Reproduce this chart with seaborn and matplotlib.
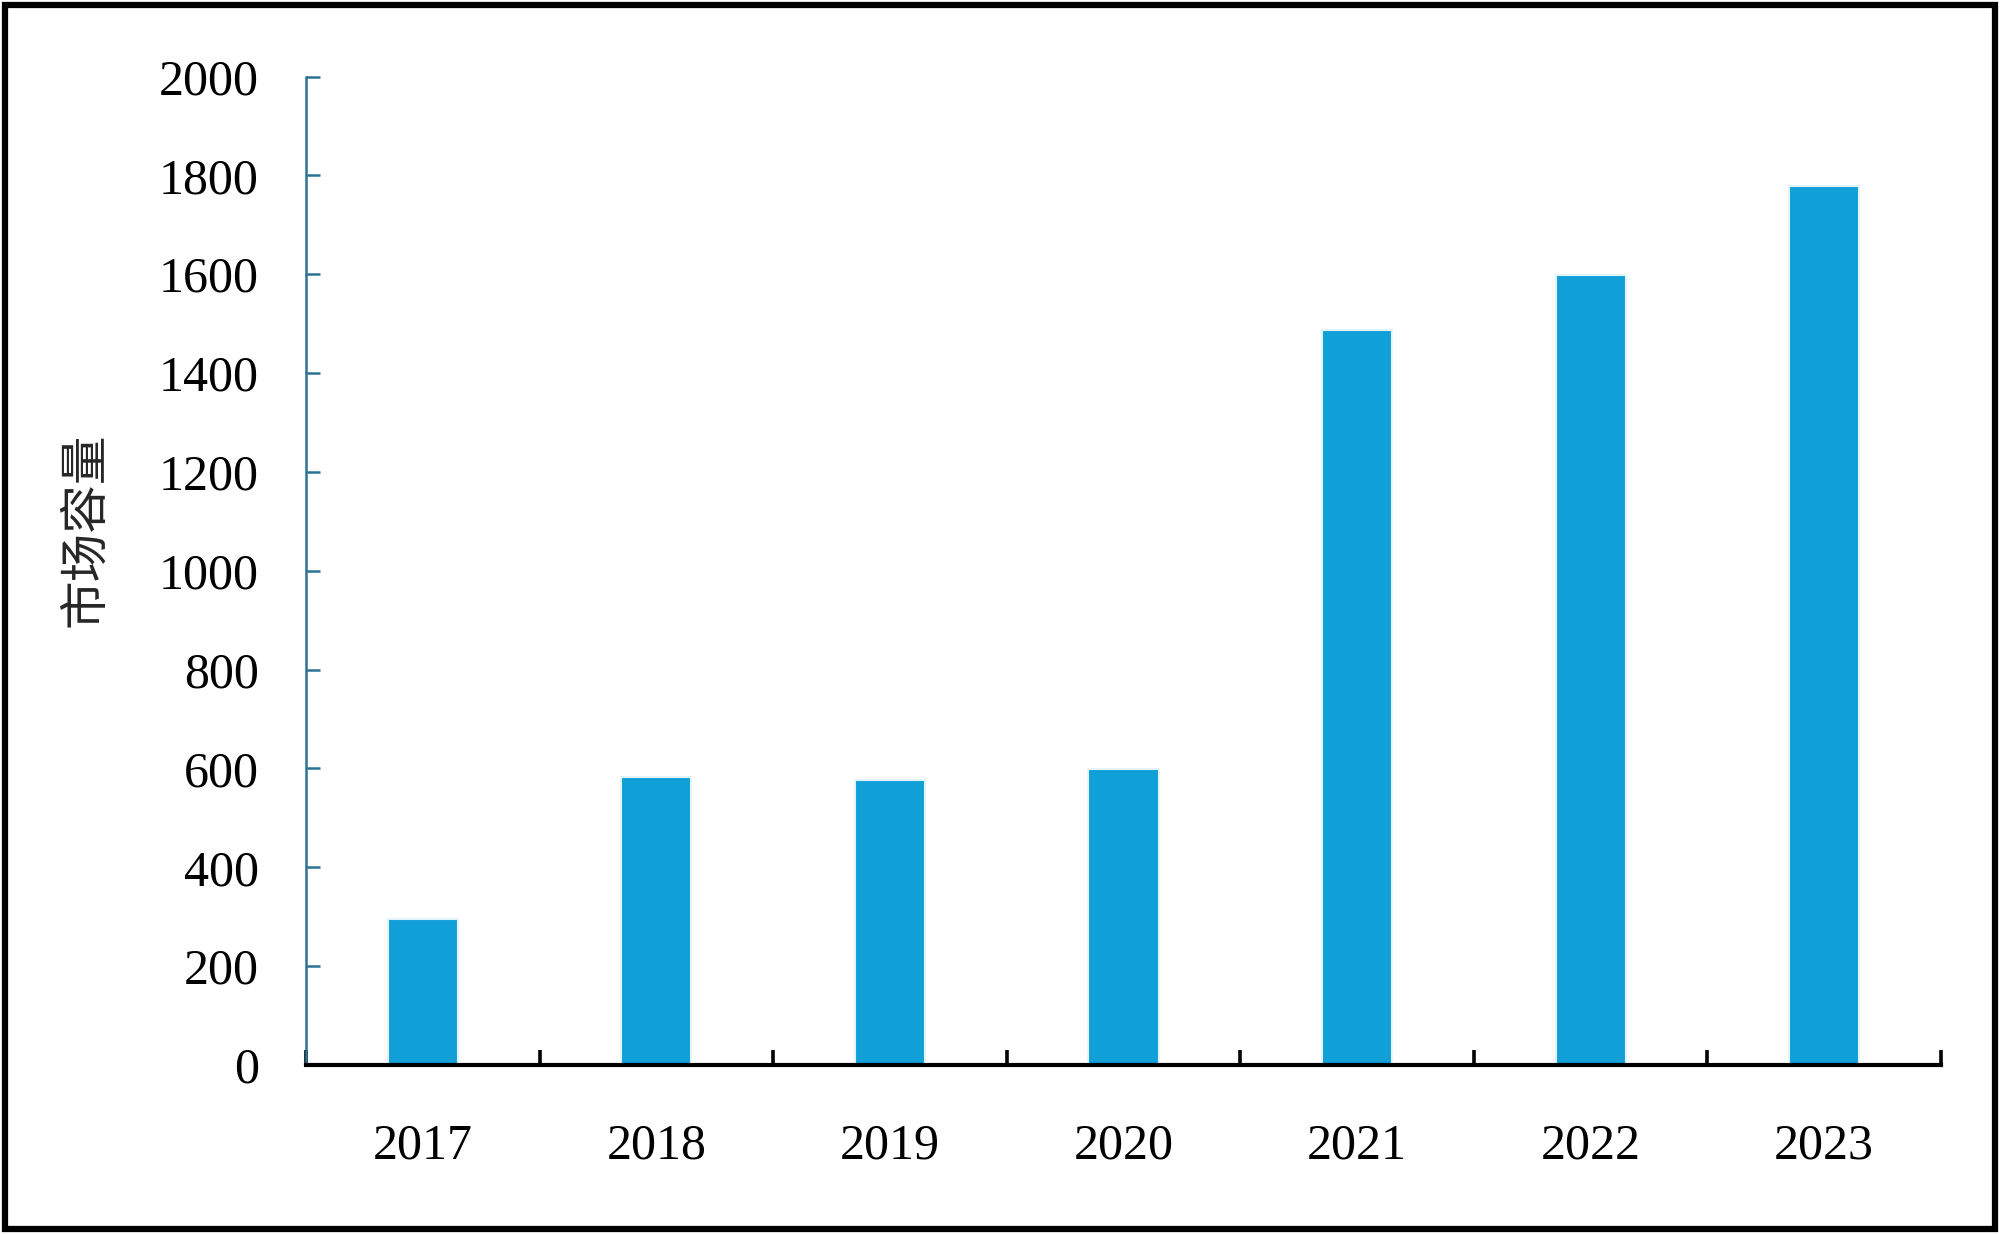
import matplotlib
matplotlib.use("Agg")
import matplotlib.pyplot as plt
import numpy as np
import pandas as pd
import seaborn as sns
from matplotlib.patches import Rectangle

years = ["2017", "2018", "2019", "2020", "2021", "2022", "2023"]
capacity = [296, 582, 577, 598, 1488, 1598, 1778]
y_ticks = [0, 200, 400, 600, 800, 1000, 1200, 1400, 1600, 1800, 2000]
y_label = "市场容量"

bar_color = "#109fd6"
yaxis_color = "#2b7392"

sns.set_theme(style="white")
plt.rcParams["font.family"] = ["Liberation Serif", "Noto Sans CJK SC"]

df = pd.DataFrame({"year": years, "capacity": capacity})

fig = plt.figure(figsize=(20, 12.34), dpi=100)
ax = fig.add_axes([0.153, 0.137, 0.8175, 0.801])

sns.barplot(data=df, x="year", y="capacity", color=bar_color, width=0.3,
            edgecolor="#e4f4fb", linewidth=1.5, saturation=1, ax=ax)

ax.set_xlim(-0.5, 6.5)
ax.set_ylim(0, 2000)
ax.set_yticks(y_ticks)
ax.set_yticklabels([str(t) for t in y_ticks])

# spines: black x axis, blue-ish y axis, nothing else
for side in ["top", "right"]:
    ax.spines[side].set_visible(False)
ax.spines["bottom"].set_color("black")
ax.spines["bottom"].set_linewidth(3)
ax.spines["left"].set_color(yaxis_color)
ax.spines["left"].set_linewidth(1.8)

ax.tick_params(axis="y", direction="in", length=10, width=1.8, color=yaxis_color,
               pad=34, labelsize=36, labelcolor="black", left=True)
ax.tick_params(axis="x", which="major", length=0, pad=42, labelsize=36,
               labelcolor="black", bottom=True)
ax.set_xticks(np.arange(-0.5, 7, 1), minor=True)
ax.tick_params(axis="x", which="minor", direction="in", length=11, width=2.6,
               color="black", bottom=True)

ax.set_xlabel("")
ax.set_ylabel("")
fig.text(0.0425, 1 - 530 / 1234, y_label, rotation=90, ha="center", va="center",
         fontsize=35, family=["Noto Sans CJK SC", "DejaVu Sans"])

# outer frame
fig.patches.append(Rectangle((0.0025, 0.004), 0.995, 0.992, transform=fig.transFigure,
                             fill=False, edgecolor="black", linewidth=4.5))

fig.savefig("out.png", dpi=100)
